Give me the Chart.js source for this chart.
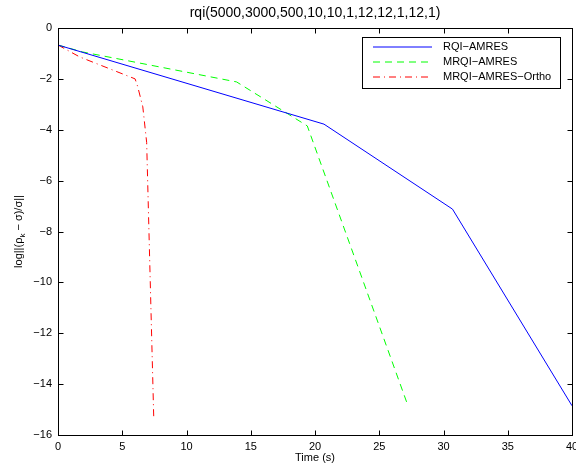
<!DOCTYPE html>
<html>
<head>
<meta charset="utf-8">
<script src="https://cdn.jsdelivr.net/npm/chart.js@4.4.1/dist/chart.umd.min.js"></script>
<style>
  html, body { margin: 0; padding: 0; background: #fff; }
  #wrap { width: 576px; height: 470px; }
</style>
</head>
<body>
<div id="wrap"><canvas id="c"></canvas></div>
<script>
// Values (time in seconds, log residual).
const rqiTime = [0, 20.7, 30.7, 40];
const rqiRes = [-0.67, -3.78, -7.12, -14.85];

const mrqiTime = [0, 1.9, 13.9, 19.4, 27.2];
const mrqiRes = [-0.67, -0.94, -2.12, -3.85, -14.8];

const orthoTime = [0, 1.7, 6.0, 6.2, 6.6, 6.9, 7.45];
const orthoRes = [-0.67, -1.14, -2.0, -2.3, -3.1, -4.5, -15.3];

const xTicks = [0, 5, 10, 15, 20, 25, 30, 35, 40];
const yTicks = [0, -2, -4, -6, -8, -10, -12, -14, -16];

const seriesNames = ["RQI\u2212AMRES", "MRQI\u2212AMRES", "MRQI\u2212AMRES\u2212Ortho"];
const seriesColors = ["rgb(0,0,255)", "rgb(0,255,0)", "rgb(255,0,0)"];
const seriesDashes = [[], [7, 5], [7, 4, 1, 4]];

const FONT = "'Liberation Sans', Arial, Helvetica, sans-serif";

function points(xs, ys) {
  return xs.map((x, i) => ({ x, y: ys[i] }));
}

function minus(v) {
  return String(v).replace("-", "\u2212");
}

// Draws the MATLAB-style box, inward ticks, title, axis labels and legend.
const decorations = {
  id: "decorations",
  afterDraw(chart) {
    const ctx = chart.ctx;
    const a = chart.chartArea;
    const xs = chart.scales.x;
    const ys = chart.scales.y;
    const L = Math.round(a.left) + 0.5, R = Math.round(a.right) + 0.5;
    const T = Math.round(a.top) + 0.5, B = Math.round(a.bottom) + 0.5;
    ctx.save();

    // box
    ctx.strokeStyle = "#000";
    ctx.lineWidth = 1;
    ctx.setLineDash([]);
    ctx.strokeRect(L, T, R - L, B - T);

    // inward ticks on all four sides
    const tl = 5;
    ctx.beginPath();
    xTicks.forEach(v => {
      const px = Math.round(xs.getPixelForValue(v)) + 0.5;
      ctx.moveTo(px, B); ctx.lineTo(px, B - tl);
      ctx.moveTo(px, T); ctx.lineTo(px, T + tl);
    });
    yTicks.forEach(v => {
      const py = Math.round(ys.getPixelForValue(v)) + 0.5;
      ctx.moveTo(L, py); ctx.lineTo(L + tl, py);
      ctx.moveTo(R, py); ctx.lineTo(R - tl, py);
    });
    ctx.stroke();

    const cx = (a.left + a.right) / 2;
    const cy = (a.top + a.bottom) / 2;
    ctx.fillStyle = "#000";

    // title
    ctx.font = "14px " + FONT;
    ctx.textAlign = "center";
    ctx.textBaseline = "middle";
    ctx.fillText("rqi(5000,3000,500,10,10,1,12,12,1,12,1)", cx, 13);

    // x label
    ctx.font = "11px " + FONT;
    ctx.fillText("Time (s)", cx, 458);

    // y label with subscript k
    ctx.save();
    ctx.translate(19, cy);
    ctx.rotate(-Math.PI / 2);
    const p1 = "log||(\u03C1", p2 = "k", p3 = " \u2212 \u03C3)/\u03C3||";
    ctx.font = "11px " + FONT;
    const w1 = ctx.measureText(p1).width, w3 = ctx.measureText(p3).width;
    ctx.font = "8px " + FONT;
    const w2 = ctx.measureText(p2).width;
    const x0 = -(w1 + w2 + w3) / 2;
    ctx.textAlign = "left";
    ctx.font = "11px " + FONT;
    ctx.fillText(p1, x0, 0);
    ctx.font = "8px " + FONT;
    ctx.fillText(p2, x0 + w1, 4);
    ctx.font = "11px " + FONT;
    ctx.fillText(p3, x0 + w1 + w2, 0);
    ctx.restore();

    // legend
    const lx = 362.5, ly = 37.5, lw = 198, lh = 51;
    ctx.fillStyle = "#fff";
    ctx.fillRect(lx, ly, lw, lh);
    ctx.strokeStyle = "#000";
    ctx.lineWidth = 1;
    ctx.strokeRect(lx, ly, lw, lh);
    const rows = [47, 62, 77];
    seriesNames.forEach((name, i) => {
      ctx.beginPath();
      ctx.strokeStyle = seriesColors[i];
      ctx.lineWidth = 1;
      ctx.setLineDash(seriesDashes[i]);
      ctx.moveTo(373, rows[i]);
      ctx.lineTo(432, rows[i]);
      ctx.stroke();
      ctx.setLineDash([]);
      ctx.fillStyle = "#000";
      ctx.font = "11px " + FONT;
      ctx.textAlign = "left";
      ctx.textBaseline = "middle";
      ctx.fillText(name, 443, rows[i]);
    });

    ctx.restore();
  }
};

new Chart(document.getElementById("c"), {
  type: "line",
  data: {
    datasets: [
      { label: seriesNames[0], data: points(rqiTime, rqiRes) },
      { label: seriesNames[1], data: points(mrqiTime, mrqiRes) },
      { label: seriesNames[2], data: points(orthoTime, orthoRes) },
    ].map((ds, i) => ({
      ...ds,
      borderColor: seriesColors[i],
      borderWidth: 1,
      borderDash: seriesDashes[i],
    })),
  },
  options: {
    responsive: true,
    maintainAspectRatio: false,
    animation: false,
    devicePixelRatio: 1,
    elements: { point: { radius: 0 }, line: { tension: 0 } },
    layout: { autoPadding: false, padding: { top: 28, right: 4, bottom: 0, left: 0 } },
    plugins: { legend: { display: false }, tooltip: { enabled: false }, title: { display: false } },
    scales: {
      x: {
        type: "linear",
        min: 0,
        max: 40,
        grid: { display: false, drawTicks: false },
        border: { display: false },
        afterBuildTicks: s => { s.ticks = xTicks.map(v => ({ value: v })); },
        afterFit: s => { s.height = 35; s.paddingLeft = 0; s.paddingRight = 0; },
        ticks: {
          color: "#000",
          padding: 5,
          maxRotation: 0,
          font: { family: FONT, size: 11 },
          callback: v => minus(v),
        },
      },
      y: {
        type: "linear",
        min: -16,
        max: 0,
        grid: { display: false, drawTicks: false },
        border: { display: false },
        afterBuildTicks: s => { s.ticks = yTicks.map(v => ({ value: v })); },
        afterFit: s => { s.width = 58; s.paddingTop = 0; s.paddingBottom = 0; },
        ticks: {
          color: "#000",
          padding: 6,
          font: { family: FONT, size: 11 },
          callback: v => minus(v),
        },
      },
    },
  },
  plugins: [decorations],
});
</script>
</body>
</html>
